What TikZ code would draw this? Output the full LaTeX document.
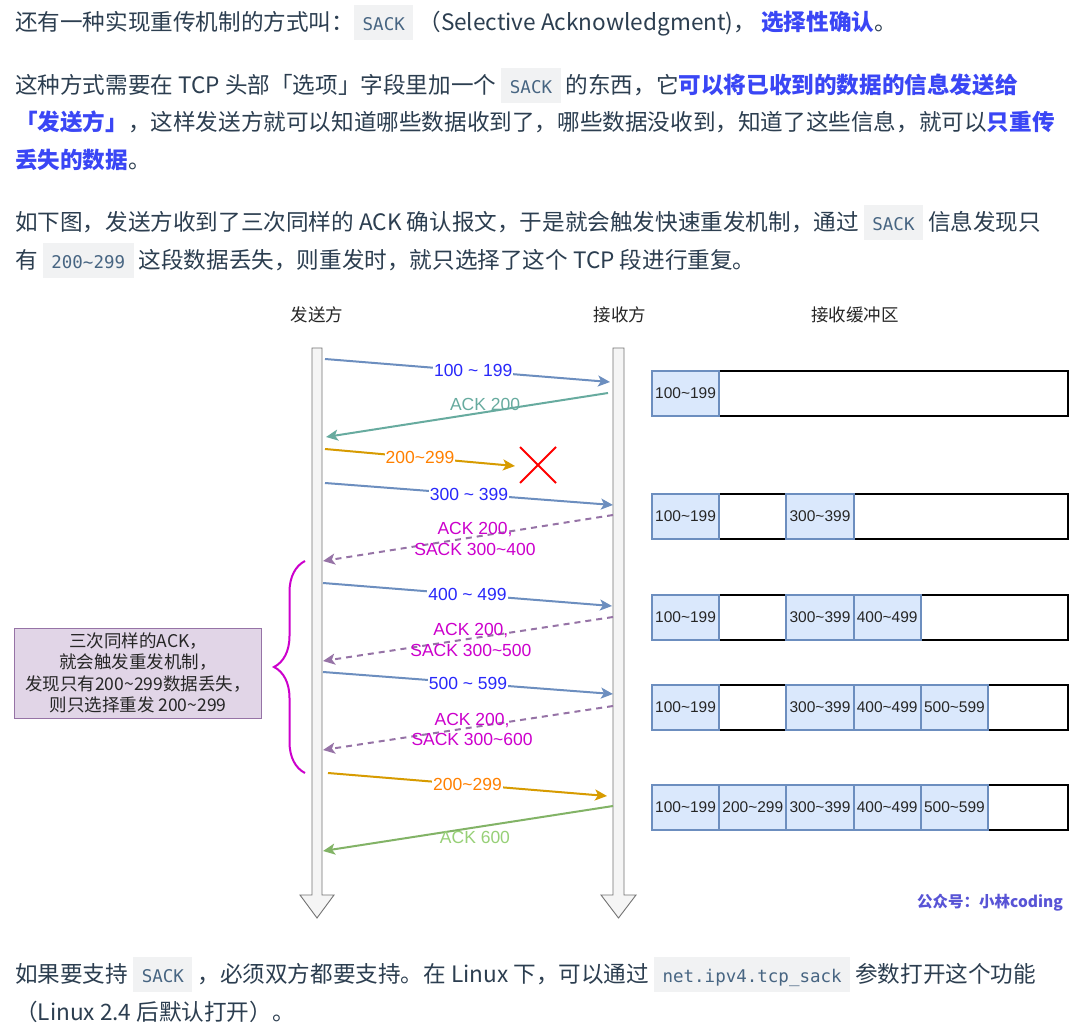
\documentclass[tikz,border=0pt]{standalone}
\usepackage{fontspec}
\setmainfont{Noto Sans CJK SC}
\newfontfamily\arial{Liberation Sans}
\newfontfamily\codefont{DejaVu Sans Mono}
\usepackage{xcolor}
\usepackage{tikz}
\usetikzlibrary{arrows.meta,decorations.pathreplacing}
\definecolor{bodyText}{HTML}{2C3E50}
\definecolor{strongBlue}{RGB}{58,70,245}
\definecolor{codeBg}{RGB}{241,242,243}
\definecolor{codeText}{HTML}{476582}
\definecolor{segLine}{HTML}{6C8EBF}
\definecolor{segText}{RGB}{40,40,250}
\definecolor{ackLine}{HTML}{67AB9F}
\definecolor{lostLine}{HTML}{D79B00}
\definecolor{lostText}{HTML}{FF8000}
\definecolor{sackLine}{HTML}{9673A6}
\definecolor{sackText}{HTML}{CC00CC}
\definecolor{finLine}{HTML}{82B366}
\definecolor{finText}{HTML}{97D077}
\definecolor{cellFill}{HTML}{DAE8FC}
\definecolor{noteFill}{HTML}{E1D5E7}
\definecolor{markBlue}{RGB}{88,84,214}
\newcommand{\code}[1]{{\setlength{\fboxsep}{0pt}\colorbox{codeBg}{\rule[-9.5pt]{0pt}{35pt}\hspace{8.5pt}{\codefont\fontsize{17.5}{20}\selectfont\color{codeText}#1}\hspace{8.5pt}}}}
\newcommand{\keyword}[1]{{\bfseries\color{strongBlue}#1}}
\newcommand{\tild}{\textasciitilde}

\begin{document}
\begin{tikzpicture}[x=1pt,y=-1pt,
  textline/.style={anchor=base west, inner sep=0pt, text=bodyText, font=\fontsize{22.6}{28}\selectfont},
  head/.style={font=\fontsize{17.5}{20}\selectfont, text=black!85},
  lifeline/.style={fill=black!4, draw=black!55, line width=0.9pt},
  msg/.style={line width=2pt, -{Stealth[length=12pt,width=11pt,inset=3pt]}},
  seglbl/.style={fill=white, inner sep=1pt, text=segText, font=\arial\fontsize{17.5}{20}\selectfont},
  lbl/.style={inner sep=0pt, align=center, font=\arial\fontsize{17.5}{20.5}\selectfont},
  buf/.style={draw=black, line width=2pt, minimum width=416pt, minimum height=45pt, inner sep=0pt},
  cell/.style={draw=segLine, fill=cellFill, line width=2pt, minimum width=67.2pt, minimum height=45pt, inner sep=0pt, text=black!85, font=\arial\fontsize{15.5}{18}\selectfont},
  note/.style={fill=noteFill, draw=sackLine, line width=1pt, minimum width=247pt, minimum height=90pt, inner sep=0pt, align=center, text=black!85, font=\fontsize{17.5}{21.5}\selectfont}]
\path[use as bounding box, fill=white] (0,0) rectangle (1085,1035);

\node[textline] (p1) at (15,30.5) {还有一种实现重传机制的方式叫：\code{SACK} （Selective Acknowledgment)， \keyword{选择性确认}。};
\node[textline] (p2) at (15,93.5) {这种方式需要在 TCP 头部「选项」字段里加一个 \code{SACK} 的东西，它\keyword{可以将已收到的数据的信息发送给}};
\node[textline] (p3) at (15,130.5) {\keyword{「发送方」}，这样发送方就可以知道哪些数据收到了，哪些数据没收到，知道了这些信息，就可以\keyword{只重传}};
\node[textline] (p4) at (15,168.5) {\keyword{丢失的数据}。};
\node[textline] (p5) at (15,230.5) {如下图，发送方收到了三次同样的 ACK 确认报文，于是就会触发快速重发机制，通过 \code{SACK} 信息发现只};
\node[textline] (p6) at (15,268.5) {有 \code{200\tild299} 这段数据丢失，则重发时，就只选择了这个 TCP 段进行重复。};
\node[textline] (p7) at (15,982.5) {如果要支持 \code{SACK} ，必须双方都要支持。在 Linux 下，可以通过 \code{net.ipv4.tcp\_sack} 参数打开这个功能};
\node[textline] (p8) at (15,1020.5) {（Linux 2.4 后默认打开）。};

\node[head] (snd) at (317,315) {发送方};
\node[head] (rcv) at (620,315) {接收方};
\node[head] (rbuf) at (855,315) {接收缓冲区};

\draw[lifeline] (312,348) -- (322,348) -- (322,895) -- (334,895) -- (317,918) -- (300,895) -- (312,895) -- cycle;
\draw[lifeline] (613,348) -- (624,348) -- (624,895) -- (636,895) -- (618.5,918) -- (601,895) -- (613,895) -- cycle;

\coordinate (s1) at (325,359); \coordinate (r1) at (610,382);
\coordinate (r2) at (608,393); \coordinate (s2) at (326,437);
\coordinate (s3) at (325,449); \coordinate (x3) at (515,466);
\coordinate (s4) at (325,483); \coordinate (r4) at (613,505);
\coordinate (r5) at (613,515); \coordinate (s5) at (323,561);
\coordinate (s6) at (323,583); \coordinate (r6) at (612,606);
\coordinate (r7) at (613,617); \coordinate (s7) at (323,661);
\coordinate (s8) at (323,672); \coordinate (r8) at (613,694);
\coordinate (r9) at (613,706); \coordinate (s9) at (323,750);
\coordinate (s10) at (328,773); \coordinate (r10) at (607,796);
\coordinate (r11) at (613,806); \coordinate (s11) at (323,851);

\draw[msg, segLine] (s1) -- node[seglbl, pos=0.52] {100 \tild{} 199} (r1);
\draw[msg, ackLine] (r2) -- node[lbl, pos=0.436, yshift=8pt, text=ackLine] {ACK 200} (s2);
\draw[msg, lostLine] (s3) -- node[seglbl, text=lostText] {200\tild299} (x3);
\draw[red, line width=2pt] (520,447) -- (556,483) (556,447) -- (520,483);
\draw[msg, segLine] (s4) -- node[seglbl] {300 \tild{} 399} (r4);
\draw[msg, sackLine, dash pattern=on 6pt off 5pt] (r5) -- node[lbl, pos=0.476, yshift=-2pt, text=sackText] {ACK 200,\\SACK 300\tild400} (s5);
\draw[msg, segLine] (s6) -- node[seglbl] {400 \tild{} 499} (r6);
\draw[msg, sackLine, dash pattern=on 6pt off 5pt] (r7) -- node[lbl, pos=0.49, yshift=-1.5pt, text=sackText] {ACK 200,\\SACK 300\tild500} (s7);
\draw[msg, segLine] (s8) -- node[seglbl] {500 \tild{} 599} (r8);
\draw[msg, sackLine, dash pattern=on 6pt off 5pt] (r9) -- node[lbl, pos=0.486, yshift=-2pt, text=sackText] {ACK 200,\\SACK 300\tild600} (s9);
\draw[msg, lostLine] (s10) -- node[seglbl, text=lostText] {200\tild299} (r10);
\draw[msg, finLine] (r11) -- node[lbl, pos=0.476, yshift=-10.5pt, text=finText] {ACK 600} (s11);

\draw[sackText, line width=2pt, decorate, decoration={brace, amplitude=31pt}] (305,773) -- (305,561);
\node[note] (why) at (138,673) {三次同样的ACK，\\就会触发重发机制，\\发现只有200\tild299数据丢失，\\则只选择重发 200\tild299};

\node[buf] (buf1) at (860,393) {};
\node[cell] (c11) at (685.6,393) {100\tild199};
\node[buf] (buf2) at (860,516) {};
\node[cell] (c21) at (685.6,516) {100\tild199};
\node[cell] (c23) at (820,516) {300\tild399};
\node[buf] (buf3) at (860,617) {};
\node[cell] (c31) at (685.6,617) {100\tild199};
\node[cell] (c33) at (820,617) {300\tild399};
\node[cell] (c34) at (887.2,617) {400\tild499};
\node[buf] (buf4) at (860,707) {};
\node[cell] (c41) at (685.6,707) {100\tild199};
\node[cell] (c43) at (820,707) {300\tild399};
\node[cell] (c44) at (887.2,707) {400\tild499};
\node[cell] (c45) at (954.4,707) {500\tild599};
\node[buf] (buf5) at (860,807) {};
\node[cell] (c51) at (685.6,807) {100\tild199};
\node[cell] (c52) at (752.8,807) {200\tild299};
\node[cell] (c53) at (820,807) {300\tild399};
\node[cell] (c54) at (887.2,807) {400\tild499};
\node[cell] (c55) at (954.4,807) {500\tild599};

\node[font=\bfseries\fontsize{15.5}{18}\selectfont, text=markBlue] (mark) at (990,903) {公众号：小林coding};
\end{tikzpicture}
\end{document}
